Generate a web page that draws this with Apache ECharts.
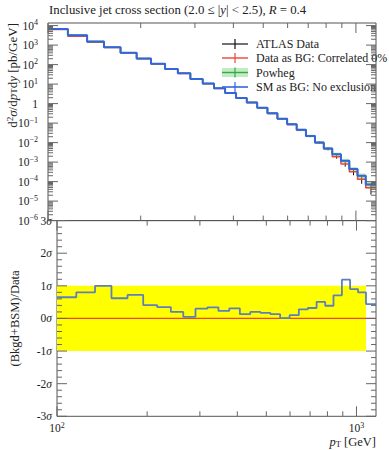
<!DOCTYPE html>
<html><head><meta charset="utf-8">
<script src="https://cdn.jsdelivr.net/npm/echarts@6/dist/echarts.min.js"></script>
<style>html,body{margin:0;padding:0;background:#fff}#c{width:389px;height:450px}</style>
</head><body><div id="c"></div><script>
// ---- data ----
const binEdges = [100,116,134,152,172,194,216,240,264,290,318,346,376,408,442,478,516,556,598,642,688,736,786,838,894,952,1012,1076,1162];
const smValues = [6680,3240,1510,771,406,206,110,59.3,35.6,18.5,10.6,6.08,3.52,1.95,1.15,0.615,0.316,0.167,0.0867,0.0452,0.0221,0.0102,0.00502,0.00252,0.00118,0.000441,0.000199,0.0000700];
const powhegValues = [6680,3240,1510,771,406,206,110,59.3,35.6,18.5,10.6,6.08,3.52,1.95,1.15,0.615,0.316,0.167,0.0867,0.0452,0.0221,0.0102,0.00502,0.00252,0.00118,0.000441,0.000199,0.0000700];
const powhegRelErr = [0.06,0.06,0.06,0.06,0.06,0.06,0.07,0.07,0.07,0.08,0.08,0.08,0.09,0.09,0.10,0.10,0.11,0.12,0.13,0.14,0.15,0.17,0.19,0.22,0.25,0.28,0.32,0.38];
const dataValues = [6310,2820,1400,745,392,200,107,58.1,35.1,18.2,10.4,5.98,3.47,1.92,1.13,0.605,0.311,0.165,0.0858,0.0445,0.0217,0.0099,0.00485,0.00188,0.00079,0.000316,0.000133,0.0000479];
const dataRelErr = [0.02,0.02,0.02,0.02,0.02,0.02,0.03,0.03,0.03,0.03,0.04,0.04,0.04,0.05,0.05,0.06,0.07,0.08,0.09,0.10,0.12,0.14,0.17,0.21,0.26,0.33,0.42,0.55];
const ratioValues = [0.65,0.80,1.00,0.62,0.72,0.41,0.35,0.20,0.05,0.30,0.34,0.23,0.31,0.13,0.20,0.17,0.13,0.01,0.10,0.28,0.32,0.51,0.39,0.71,1.19,0.90,0.80,0.44];
const legendLabels = ['ATLAS Data','Data as BG: Correlated 0%','Powheg','SM as BG: No exclusion'];

// ---- helpers ----
const L = Math.log10;
const FONT = "'Liberation Serif', 'DejaVu Serif', serif";
const XMIN = 2, XMAX = L(1162);
const YTMIN = -6, YTMAX = 4.133;
const YBMIN = -3, YBMAX = 3;
const TICKC = '#666';

function steps(vals, tf){
  const pts=[];
  vals.forEach((v,i)=>{pts.push([L(binEdges[i]), tf(v)]); pts.push([L(binEdges[i+1]), tf(v)]);});
  return pts;
}
const xTickVals = [];
for (let v=100; v<=1000; v+=100) xTickVals.push([L(v), v===100||v===1000 ? 1 : 0]);
const yTopTicks = [];
for (let n=-6; n<=4; n++) for (let k=1;k<=9;k++){ const t=n+L(k); if (t<=YTMAX) yTopTicks.push([XMIN, t, k===1?1:0]); }
const yBotTicks = [];
for (let i=-15;i<=15;i++){ yBotTicks.push([XMIN, i/5, i%5===0?1:0]); }

function xTickSeries(grid, yMin, yMax){
  return {type:'custom', xAxisIndex:grid, yAxisIndex:grid, silent:true, z:5,
    data: xTickVals.map(t=>[t[0], yMin, t[1]]),
    encode:{x:0,y:1},
    renderItem:(p,api)=>{
      const v=api.value(0), len=api.value(2)?10:5;
      const b=api.coord([v,yMin]), t=api.coord([v,yMax]);
      return {type:'group',children:[
        {type:'line',shape:{x1:b[0],y1:b[1],x2:b[0],y2:b[1]-len},style:{stroke:TICKC,lineWidth:1}},
        {type:'line',shape:{x1:t[0],y1:t[1],x2:t[0],y2:t[1]+len},style:{stroke:TICKC,lineWidth:1}}]};
    }};
}
function yTickSeries(grid, ticks){
  return {type:'custom', xAxisIndex:grid, yAxisIndex:grid, silent:true, z:5,
    data: ticks, encode:{x:0,y:1},
    renderItem:(p,api)=>{
      const v=api.value(1), len=api.value(2)?10:5;
      const l=api.coord([XMIN,v]), r=api.coord([XMAX,v]);
      return {type:'group',children:[
        {type:'line',shape:{x1:l[0],y1:l[1],x2:l[0]+len,y2:l[1]},style:{stroke:TICKC,lineWidth:1}},
        {type:'line',shape:{x1:r[0],y1:r[1],x2:r[0]-len,y2:r[1]},style:{stroke:TICKC,lineWidth:1}}]};
    }};
}
function bandRender(color){
  return (p,api)=>{
    const a=api.coord([api.value(0),api.value(3)]), b=api.coord([api.value(1),api.value(2)]);
    return {type:'rect',shape:{x:a[0],y:a[1],width:b[0]-a[0],height:b[1]-a[1]},style:{fill:color}};
  };
}

const chart = echarts.init(document.getElementById('c'), null, {renderer:'svg'});
const BLUE='#3366dd', RED='#ee4433', GREEN='#33aa44', BANDG='rgba(120,210,120,0.45)';

const topY = {gridIndex:0,type:'value',min:YTMIN,max:YTMAX,interval:1,
  axisLine:{show:false},axisTick:{show:false},splitLine:{show:false},
  axisLabel:{margin:10,color:'#222',
    formatter:v=>{ if(Math.abs(v-Math.round(v))>1e-6) return ''; if(v===0) return '{b|1}'; return '{b|10}{s|'+(v<0?'\u2212':'')+Math.abs(v)+'}'; },
    rich:{b:{fontSize:11.5,fontFamily:FONT,color:'#222',lineHeight:14},s:{fontSize:8,fontFamily:FONT,color:'#222',lineHeight:8,verticalAlign:'top'}}}};
const botY = {gridIndex:1,type:'value',min:YBMIN,max:YBMAX,interval:1,
  axisLine:{show:false},axisTick:{show:false},splitLine:{show:false},
  name:'(Bkgd+BSM)/Data',nameLocation:'middle',nameGap:36,nameRotate:90,
  nameTextStyle:{fontFamily:FONT,fontSize:12.5,color:'#222'},
  axisLabel:{margin:5,color:'#222',
    formatter:v=>'{b|'+(v<0?'-':'')+Math.abs(v)+'}{i|σ}',
    rich:{b:{fontSize:11.5,fontFamily:FONT,color:'#222'},i:{fontSize:11.5,fontFamily:FONT,fontStyle:'italic',color:'#222'}}}};

const option = {
  animation:false,
  grid:[
    {left:48,right:13,top:23,bottom:229.4,show:true,borderColor:'#555',borderWidth:1,backgroundColor:'transparent'},
    {left:48,right:13,top:220.6,bottom:33.7,show:true,borderColor:'#555',borderWidth:1,backgroundColor:'transparent'}
  ],
  xAxis:[
    {gridIndex:0,type:'value',min:XMIN,max:XMAX,interval:1,axisLine:{show:false},axisTick:{show:false},splitLine:{show:false},axisLabel:{show:false}},
    {gridIndex:1,type:'value',min:XMIN,max:XMAX,interval:1,axisLine:{show:false},axisTick:{show:false},splitLine:{show:false},
     axisLabel:{margin:5,color:'#222',formatter:v=>{ if(Math.abs(v-Math.round(v))>1e-6) return ''; return '{b|10}{s|'+v+'}'; },
       rich:{b:{fontSize:11.5,fontFamily:FONT,color:'#222',lineHeight:14},s:{fontSize:8,fontFamily:FONT,color:'#222',lineHeight:8,verticalAlign:'top'}}}}
  ],
  yAxis:[topY, botY],
  series:[
    // top panel
    {type:'custom',name:'ATLAS Data',xAxisIndex:0,yAxisIndex:0,z:2,
      data: dataValues.map((v,i)=>[L((binEdges[i]+binEdges[i+1])/2), L(v*(1-dataRelErr[i])), L(v*(1+dataRelErr[i]))]),
      encode:{x:0,y:[1,2]},
      renderItem:(p,api)=>{const a=api.coord([api.value(0),api.value(1)]), b=api.coord([api.value(0),api.value(2)]);
        return {type:'line',shape:{x1:a[0],y1:a[1],x2:b[0],y2:b[1]},style:{stroke:'#111',lineWidth:1}};}},
    {type:'line',name:legendLabels[1],xAxisIndex:0,yAxisIndex:0,z:3,showSymbol:false,
      data:steps(dataValues,L),lineStyle:{color:RED,width:1.5}},
    {type:'custom',name:'Powheg band',xAxisIndex:0,yAxisIndex:0,z:3,
      data: powhegValues.map((v,i)=>[L(binEdges[i]),L(binEdges[i+1]),L(v*(1-powhegRelErr[i])),L(v*(1+powhegRelErr[i]))]),
      encode:{x:[0,1],y:[2,3]}, renderItem:bandRender(BANDG)},
    {type:'line',name:'Powheg',xAxisIndex:0,yAxisIndex:0,z:3,showSymbol:false,
      data:steps(powhegValues,L),lineStyle:{color:GREEN,width:1.5}},
    {type:'line',name:legendLabels[3],xAxisIndex:0,yAxisIndex:0,z:4,showSymbol:false,
      data:steps(smValues,L),lineStyle:{color:BLUE,width:2}},
    xTickSeries(0,YTMIN,YTMAX),
    yTickSeries(0,yTopTicks),
    // bottom panel
    {type:'custom',name:'1 sigma band',xAxisIndex:1,yAxisIndex:1,z:1,
      data:[[XMIN,L(1076),-1,1]],encode:{x:[0,1],y:[2,3]},renderItem:bandRender('#ffff00')},
    {type:'line',name:'zero',xAxisIndex:1,yAxisIndex:1,z:2,showSymbol:false,
      data:[[XMIN,0],[XMAX,0]],lineStyle:{color:RED,width:1.2}},
    {type:'line',name:'ratio',xAxisIndex:1,yAxisIndex:1,z:3,showSymbol:false,
      data:steps(ratioValues,v=>v),lineStyle:{color:'#5d80bb',width:1.8}},
    xTickSeries(1,YBMIN,YBMAX),
    yTickSeries(1,yBotTicks)
  ],
  graphic:[
    {type:'text',left:49,top:3,style:{text:'Inclusive jet cross section (2.0 ≤ |{i|y}| < 2.5), {i|R} = 0.4',
      font:'12.8px '+FONT,fill:'#222',rich:{i:{fontStyle:'italic',fontSize:12.8,fontFamily:FONT,fill:'#222'}}}},
    {type:'text',x:12,y:23,rotation:Math.PI/2,style:{text:'d{s|2}{i|σ}/d{i|p}{sub|T}d{i|y} [pb/GeV]',
      align:'right',verticalAlign:'middle',font:'13px '+FONT,fill:'#222',
      rich:{i:{fontStyle:'italic',fontSize:13,fontFamily:FONT},s:{fontSize:9,fontFamily:FONT,verticalAlign:'top',lineHeight:8},sub:{fontSize:9,fontFamily:FONT,verticalAlign:'bottom',lineHeight:8}}}},
    {type:'text',x:376,y:441.5,style:{text:'{i|p}{sub|T} [GeV]',align:'right',verticalAlign:'middle',font:'12.5px '+FONT,fill:'#222',
      rich:{i:{fontStyle:'italic',fontSize:12.5,fontFamily:FONT},sub:{fontSize:8.5,fontFamily:FONT,verticalAlign:'bottom',lineHeight:8}}}},
    // legend
    {type:'group',children:[
      {type:'line',shape:{x1:222,y1:44,x2:248,y2:44},style:{stroke:'#111',lineWidth:1.2}},
      {type:'line',shape:{x1:235,y1:39,x2:235,y2:49},style:{stroke:'#111',lineWidth:1.2}},
      {type:'text',x:256,y:44,style:{text:legendLabels[0],font:'12px '+FONT,fill:'#222',verticalAlign:'middle'}},
      {type:'line',shape:{x1:222,y1:58,x2:248,y2:58},style:{stroke:RED,lineWidth:1.4}},
      {type:'line',shape:{x1:235,y1:53,x2:235,y2:63},style:{stroke:RED,lineWidth:1.2}},
      {type:'text',x:256,y:58,style:{text:legendLabels[1],font:'12px '+FONT,fill:'#222',verticalAlign:'middle'}},
      {type:'rect',shape:{x:222,y:68,width:26,height:9},style:{fill:BANDG}},
      {type:'line',shape:{x1:222,y1:72.5,x2:248,y2:72.5},style:{stroke:GREEN,lineWidth:1.4}},
      {type:'line',shape:{x1:235,y1:67.5,x2:235,y2:77.5},style:{stroke:GREEN,lineWidth:1.2}},
      {type:'text',x:256,y:72.5,style:{text:legendLabels[2],font:'12px '+FONT,fill:'#222',verticalAlign:'middle'}},
      {type:'line',shape:{x1:222,y1:87,x2:248,y2:87},style:{stroke:BLUE,lineWidth:1.6}},
      {type:'line',shape:{x1:235,y1:82,x2:235,y2:92},style:{stroke:BLUE,lineWidth:1.2}},
      {type:'text',x:256,y:87,style:{text:legendLabels[3],font:'12px '+FONT,fill:'#222',verticalAlign:'middle'}}
    ]}
  ]
};
chart.setOption(option);
</script></body></html>
